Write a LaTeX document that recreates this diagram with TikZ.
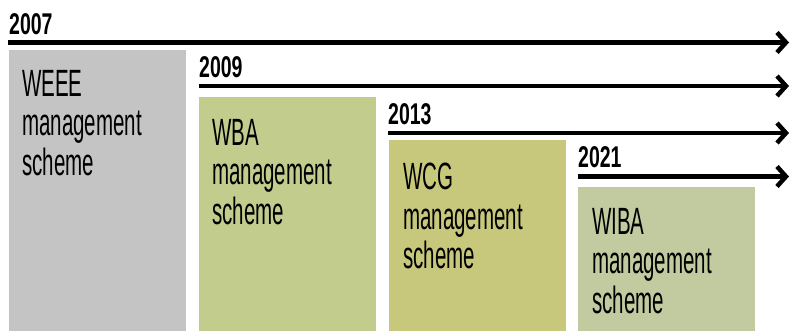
\documentclass[tikz,border=0pt]{standalone}
\usepackage{fontspec}
\setmainfont[FakeStretch=0.54]{Liberation Sans}
\newfontfamily\yearfont[FakeStretch=0.65]{Liberation Sans Bold}
\usetikzlibrary{arrows.meta,positioning}

\definecolor{weeegray}{HTML}{C4C4C4}
\definecolor{wbagreen}{HTML}{C2CC8D}
\definecolor{wcgolive}{HTML}{C8C87C}
\definecolor{wibasage}{HTML}{C2CBA0}

\begin{document}
\begin{tikzpicture}[x=1pt, y=-1pt,
    schemebox/.style={rectangle, inner sep=0pt, minimum width=177pt, anchor=north west},
    schemetext/.style={inner sep=0pt, align=left, font=\fontsize{38}{39.5}\selectfont},
    year/.style={inner sep=0pt, anchor=base west, font=\yearfont\fontsize{30}{30}\selectfont},
    timeline/.style={line width=4.5pt, -{Straight Barb[length=9pt,width=20pt]}}]
    \useasboundingbox (0,0) rectangle (792,331);

    % Anni
    \coordinate (s7) at (8,42.5);   \coordinate (e7) at (789,42.5);
    \coordinate (s9) at (199,86); \coordinate (e9) at (789,86);
    \coordinate (s13) at (388,133); \coordinate (e13) at (789,133);
    \coordinate (s21) at (578,176.5); \coordinate (e21) at (789,176.5);
    \node[year] (y7) at (9,34.5) {2007};
    \node[year] (y9) at (199,77.5) {2009};
    \node[year] (y13) at (388,125) {2013};
    \node[year] (y21) at (578,168) {2021};
    \draw[timeline] (s7) -- (e7);
    \draw[timeline] (s9) -- (e9);
    \draw[timeline] (s13) -- (e13);
    \draw[timeline] (s21) -- (e21);

    % Schemi
    \node[schemebox, fill=weeegray, minimum height=281pt] (weee) at (9,50) {};
    \node[schemebox, fill=wbagreen, minimum height=234pt] (wba) at (199,97) {};
    \node[schemebox, fill=wcgolive, minimum height=191pt] (wcg) at (389,140) {};
    \node[schemebox, fill=wibasage, minimum height=144pt] (wiba) at (578,187) {};

    \node[schemetext, below right=20pt and 13pt of weee.north west] (tweee) {WEEE\\management\\scheme};
    \node[schemetext, below right=22pt and 13pt of wba.north west] (twba) {WBA\\management\\scheme};
    \node[schemetext, below right=23pt and 14pt of wcg.north west] (twcg) {WCG\\management\\scheme};
    \node[schemetext, below right=21pt and 14pt of wiba.north west] (twiba) {WIBA\\management\\scheme};
\end{tikzpicture}
\end{document}
